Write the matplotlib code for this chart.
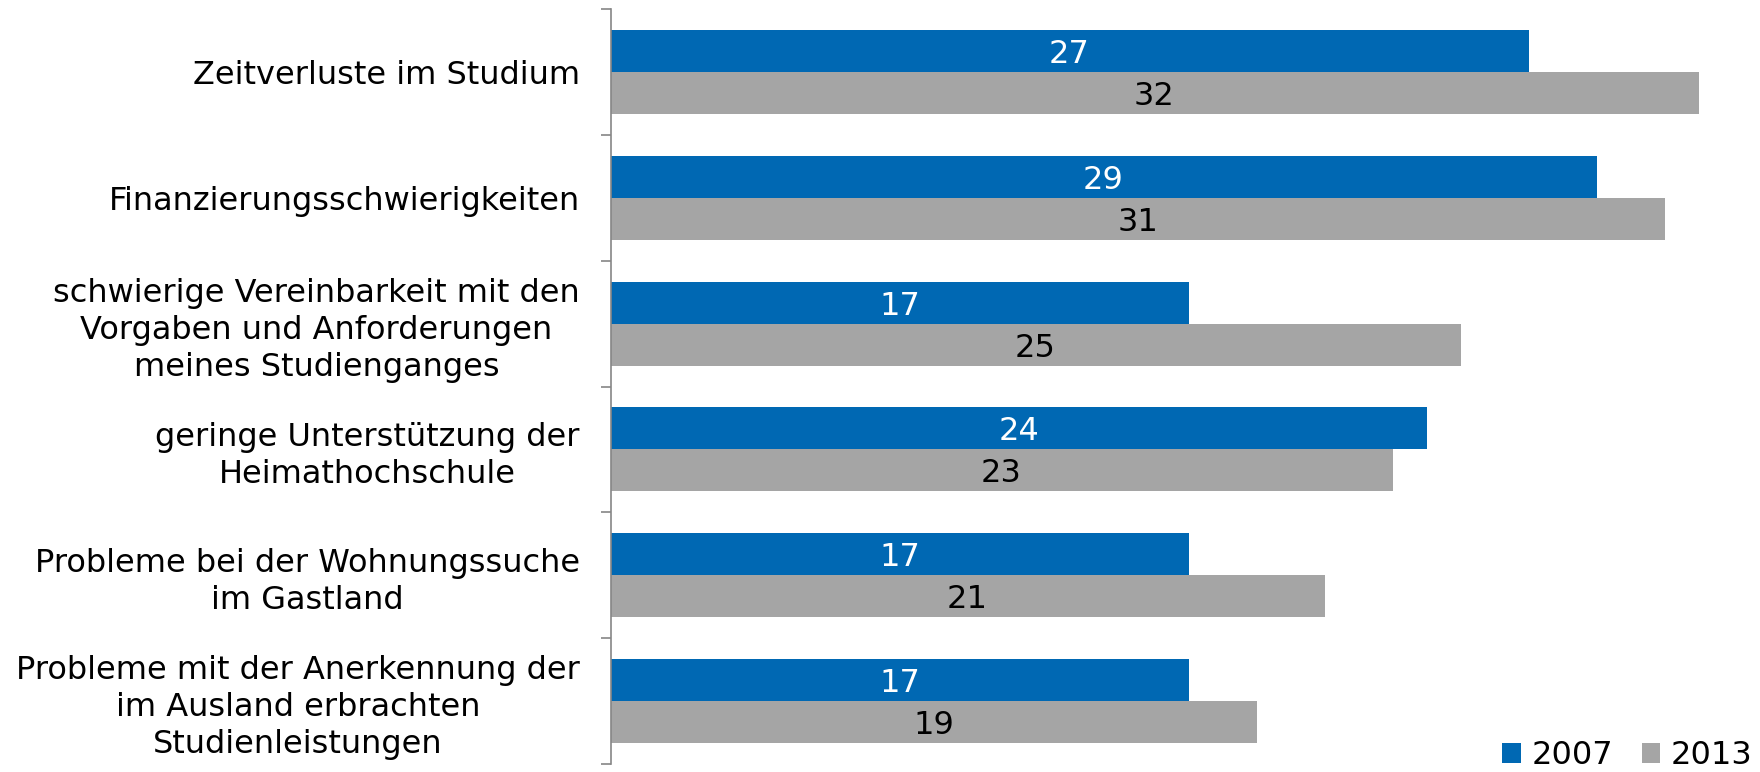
import matplotlib
matplotlib.use("Agg")
import matplotlib.pyplot as plt
from matplotlib.patches import Patch

categories = [
    "Zeitverluste im Studium",
    "Finanzierungsschwierigkeiten",
    "schwierige Vereinbarkeit mit den\nVorgaben und Anforderungen\nmeines Studienganges",
    "geringe Unterstützung der\nHeimathochschule",
    "Probleme bei der Wohnungssuche\nim Gastland",
    "Probleme mit der Anerkennung der\nim Ausland erbrachten\nStudienleistungen",
]
values_2007 = [27, 29, 17, 24, 17, 17]
values_2013 = [32, 31, 25, 23, 21, 19]
series_names = ["2007", "2013"]

BLUE = "#0068B3"
GREY = "#A5A5A5"
AXIS = "#868686"
FS = 23

plt.rcParams["font.family"] = ["DejaVu Sans"]

W, H = 1760, 772
fig = plt.figure(figsize=(W / 100, H / 100), dpi=100)
x0 = 610.5
xmax = 33.0
scale = 34.0
ax = fig.add_axes([x0 / W, 8 / H, xmax * scale / W, (764 - 9) / H])

n = len(categories)
pos = list(range(n))
h = 1 / 3
pos_a = [p - h / 2 for p in pos]
pos_b = [p + h / 2 for p in pos]
ax.barh(pos_a, values_2007, height=h, color=BLUE, linewidth=0)
ax.barh(pos_b, values_2013, height=h, color=GREY, linewidth=0)

for y, v in zip(pos_a, values_2007):
    ax.text(v / 2, y, str(v), ha="center", va="center_baseline", color="white", fontsize=FS)
for y, v in zip(pos_b, values_2013):
    ax.text(v / 2, y, str(v), ha="center", va="center_baseline", color="black", fontsize=FS)

ax.set_xlim(0, xmax)
ax.set_ylim(n - 0.5, -0.5)
ax.set_xticks([])
ax.set_yticks(pos)
ax.set_yticklabels(categories, fontsize=FS, ha="right", multialignment="center",
                   linespacing=1.25)
ax.set_yticks([p - 0.5 for p in range(n + 1)], minor=True)
ax.tick_params(axis="y", which="major", length=0, pad=22)
ax.tick_params(axis="y", which="minor", length=7.2, width=1.2, color=AXIS)
for s in ["top", "right", "bottom"]:
    ax.spines[s].set_visible(False)
ax.spines["left"].set_color(AXIS)
ax.spines["left"].set_linewidth(1.2)

handles = [Patch(facecolor=BLUE, edgecolor="none"), Patch(facecolor=GREY, edgecolor="none")]
fig.legend(handles, series_names, loc="lower right", bbox_to_anchor=(1752 / W, 1 / H),
           ncol=2, frameon=False, fontsize=FS, handlelength=0.58, handleheight=0.58,
           handletextpad=0.32, columnspacing=0.9, borderpad=0, borderaxespad=0)

fig.savefig("out.png", dpi=100, facecolor="white")
